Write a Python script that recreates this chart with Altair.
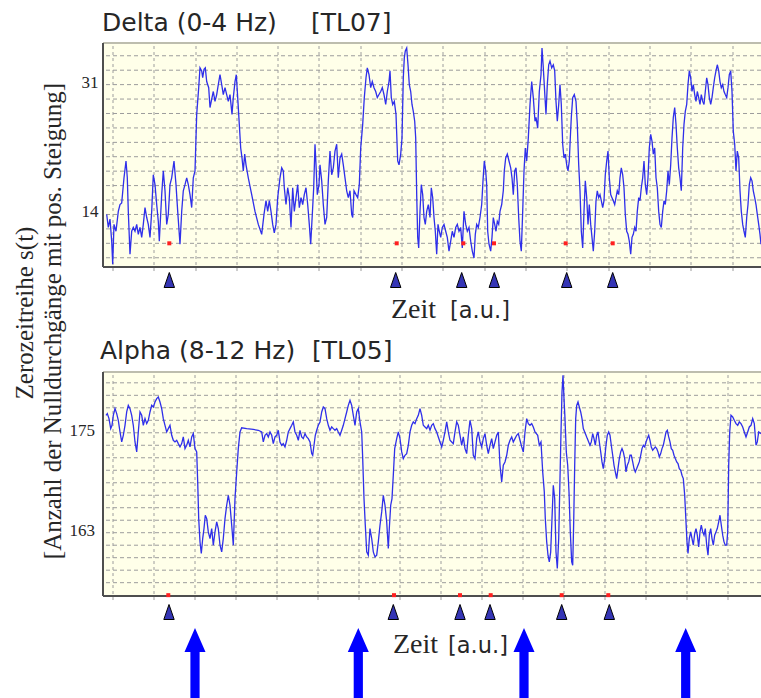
import altair as alt
import pandas as pd

# ---------------- data ----------------
# Delta band (0-4 Hz), time in a.u. vs zero-crossing count
delta_points = [
(3.7,14.0),(5.3,12.3),(7.0,13.4),(8.7,10.5),(9.7,7.5),(11.0,12.7),(13.0,11.8),(15.3,14.4),(17.0,15.3),(18.7,15.5),
(21.0,18.8),(23.0,21.0),(24.3,18.8),(25.3,14.4),(27.0,8.8),(28.7,11.8),(30.3,12.3),(32.0,11.8),(33.7,12.7),(35.3,11.4),
(37.0,12.3),(38.7,11.0),(40.3,12.7),(42.0,14.9),(43.7,13.6),(45.3,12.7),(47.0,11.0),(48.7,14.4),(50.3,19.2),(52.0,17.9),
(53.7,15.3),(55.3,13.1),(56.3,10.5),(58.7,16.6),(60.3,19.7),(62.0,17.1),(63.7,12.7),(65.3,14.0),(67.0,17.9),(68.7,18.8),
(71.0,21.0),(73.0,17.9),(74.7,14.4),(77.0,10.1),(78.7,14.4),(80.3,17.1),(82.0,17.9),(83.7,18.8),(85.3,17.9),(87.0,16.6),
(88.7,14.9),(90.3,18.8),(92.0,19.7),(93.7,27.1),(95.7,30.6),(97.0,33.2),(98.7,32.8),(99.7,31.9),(101.0,33.0),(102.3,33.2),
(103.7,31.4),(105.7,30.6),(107.0,28.0),(109.0,29.3),(110.3,30.1),(112.0,28.8),(113.7,29.7),(115.3,31.0),(117.0,32.3),(118.7,31.0),
(120.3,29.7),(122.0,30.6),(123.7,29.7),(125.3,28.8),(127.0,29.7),(129.0,27.1),(130.3,29.3),(132.0,31.4),(133.3,32.3),(134.7,29.3),
(136.3,25.8),(137.7,22.7),(139.0,21.4),(140.3,19.7),(141.7,21.9),(143.0,20.5),(145.3,18.8),(148.7,16.6),(152.0,14.4),(155.3,12.7),
(158.7,11.4),(161.0,14.0),(163.0,15.8),(164.7,14.4),(166.3,15.8),(168.0,14.4),(169.7,12.7),(171.3,11.6),(173.0,12.7),(174.7,16.2),
(177.0,18.8),(178.7,20.1),(180.3,19.7),(181.3,17.5),(183.0,15.3),(184.7,17.5),(186.3,16.2),(188.0,12.3),(189.7,17.5),(191.3,14.4),
(193.0,16.2),(194.7,17.9),(196.3,14.9),(198.0,16.2),(199.7,15.3),(201.3,16.6),(203.0,17.5),(204.7,15.3),(206.3,12.7),(207.7,10.1),
(209.3,14.0),(210.7,17.5),(212.0,23.2),(213.0,20.5),(214.3,16.6),(216.0,17.9),(217.0,20.5),(218.7,18.4),(220.3,15.3),(222.0,12.7),
(223.7,13.6),(225.3,18.4),(227.0,22.3),(228.7,19.2),(230.3,20.1),(232.0,22.3),(233.7,23.2),(235.3,18.8),(237.0,21.4),(238.7,21.9),
(240.3,20.5),(242.0,18.8),(243.7,17.1),(245.3,16.2),(247.0,17.1),(248.7,14.0),(249.7,13.6),(251.0,17.1),(253.0,16.6),(254.7,16.2),
(256.3,17.9),(257.7,22.7),(259.7,25.8),(261.3,29.3),(263.0,31.9),(264.3,33.2),(266.0,32.3),(267.7,30.6),(269.3,31.4),(271.0,30.6),
(272.7,30.1),(274.3,29.3),(276.0,29.7),(277.7,30.1),(279.3,30.6),(281.0,29.7),(282.7,28.4),(284.3,30.1),(286.0,31.4),(287.0,32.8),
(288.3,29.3),(289.7,28.4),(291.3,28.8),(293.0,27.1),(294.7,21.0),(296.0,20.5),(297.7,21.9),(299.0,24.0),(300.3,31.9),(301.3,34.5),
(302.3,35.4),(303.7,35.8),(305.0,33.6),(306.3,31.0),(307.7,30.1),(309.0,28.4),(310.3,27.5),(311.7,26.2),(312.7,24.0),(313.7,16.6),
(314.7,11.0),(315.7,9.6),(317.0,14.4),(318.3,17.9),(319.7,16.6),(321.0,13.6),(322.3,12.7),(323.7,14.4),(325.3,15.3),(327.0,13.6),
(328.3,17.5),(329.7,16.2),(331.0,13.6),(332.3,11.8),(333.7,8.8),(335.0,12.7),(336.3,11.8),(337.7,11.0),(339.3,12.3),(341.0,12.7),
(342.7,11.8),(344.3,11.0),(346.0,9.2),(347.7,10.5),(349.3,11.8),(351.0,11.0),(352.7,12.3),(354.3,12.7),(356.0,11.8),(357.7,12.3),
(359.3,9.6),(361.0,14.4),(362.7,12.7),(364.3,11.8),(366.0,12.3),(367.7,10.5),(369.3,9.2),(371.0,8.3),(372.3,11.4),(373.7,12.7),
(375.3,12.3),(377.0,13.6),(378.7,15.3),(380.0,18.4),(381.3,21.0),(382.7,19.7),(383.7,17.9),(384.7,11.8),(386.0,10.1),(387.7,9.2),
(389.0,11.0),(390.3,13.6),(391.7,12.7),(393.0,11.8),(394.3,13.1),(395.7,12.7),(397.0,14.4),(398.7,15.3),(400.3,17.1),(401.3,19.7),
(402.7,21.4),(404.3,21.9),(406.0,21.0),(407.7,20.1),(409.0,18.8),(410.3,16.6),(411.7,19.7),(413.0,20.1),(414.3,17.9),(415.7,13.6),
(417.0,10.5),(418.3,9.2),(419.7,14.4),(421.0,19.7),(422.3,22.7),(423.7,21.0),(425.3,24.0),(427.0,28.4),(428.7,31.4),(430.3,29.3),
(432.0,26.2),(433.0,26.7),(434.7,25.3),(436.3,30.1),(438.0,32.3),(439.0,35.8),(440.3,33.2),(442.0,29.3),(443.0,27.1),(444.3,31.0),
(445.7,33.6),(447.0,34.1),(448.7,33.2),(450.3,33.6),(451.7,32.8),(453.0,28.8),(454.3,26.2),(455.7,28.4),(457.0,31.0),(458.3,28.4),
(459.7,23.2),(461.0,21.4),(462.3,21.9),(463.7,20.5),(465.0,19.7),(466.3,21.0),(467.3,24.0),(468.3,26.7),(469.7,29.3),(471.3,29.7),
(473.0,28.8),(474.3,25.8),(475.7,20.5),(477.0,17.1),(478.3,11.8),(479.7,9.6),(481.0,14.4),(482.3,18.4),(483.7,16.2),(485.0,12.7),
(486.3,15.3),(487.7,12.7),(489.0,11.0),(490.3,9.2),(491.7,11.8),(493.0,15.8),(494.3,17.1),(495.7,16.2),(497.0,16.6),(498.3,15.8),
(499.7,14.9),(501.0,15.8),(502.3,19.2),(503.7,21.0),(505.0,22.3),(506.3,18.8),(507.7,16.6),(509.0,16.2),(510.3,15.8),(511.7,15.3),
(513.0,16.2),(514.3,17.1),(515.7,16.6),(517.0,18.8),(518.3,20.1),(519.7,19.2),(521.0,17.5),(522.3,14.0),(523.7,11.8),(525.0,11.4),
(526.3,10.5),(527.7,8.8),(529.0,11.0),(530.3,11.4),(531.7,12.3),(533.0,11.8),(534.3,14.4),(535.7,16.2),(537.0,15.8),(538.3,17.5),
(539.7,18.8),(541.0,21.0),(542.3,17.9),(543.7,16.6),(545.0,18.8),(546.3,22.7),(547.7,24.5),(549.0,23.6),(550.3,21.9),(551.7,22.7),
(553.0,18.8),(554.3,17.5),(555.7,14.4),(557.0,12.7),(558.3,12.3),(559.7,14.4),(561.0,15.8),(562.3,15.3),(563.7,17.1),(565.0,19.7),
(566.3,17.9),(567.7,20.5),(569.0,24.0),(570.3,26.7),(571.7,28.0),(573.0,25.8),(574.3,22.7),(575.7,20.1),(577.0,18.8),(578.3,17.1),
(579.7,22.7),(581.0,25.8),(582.3,27.5),(583.7,28.4),(585.0,31.0),(586.3,32.8),(587.7,31.9),(589.0,30.1),(590.3,31.0),(591.7,29.7),
(593.0,28.8),(594.3,30.1),(595.7,29.3),(597.0,28.4),(598.3,29.7),(599.7,28.8),(601.0,28.4),(602.3,30.1),(603.7,31.9),(605.0,31.0),
(606.3,29.3),(607.7,28.4),(609.0,29.3),(610.3,30.6),(611.7,31.9),(613.0,32.8),(614.3,33.6),(615.7,32.8),(617.0,31.4),(618.3,30.6),
(619.7,31.0),(621.0,30.1),(622.3,29.7),(623.7,29.3),(625.0,30.6),(626.3,32.3),(627.7,32.8),(629.0,30.1),(630.3,24.9),(631.7,23.2),
(633.0,19.7),(634.3,22.3),(635.7,21.4),(637.0,17.1),(638.3,14.4),(639.7,12.7),(641.0,11.8),(642.3,11.0),(643.7,13.6),(645.0,15.3),
(646.3,17.9),(647.7,18.8),(649.0,18.4),(650.3,17.1),(651.7,16.2),(653.0,15.3),(654.3,14.0),(655.7,12.7),(657.0,11.4),(658.0,10.1),
]

# Alpha band (8-12 Hz)
alpha_points = [
(3.0,177.1),(4.3,177.3),(6.0,176.7),(7.7,175.5),(9.0,175.9),(10.3,177.1),(12.0,177.9),(13.7,177.3),(15.3,176.5),(17.0,175.1),
(18.7,173.9),(20.3,174.7),(22.0,175.9),(23.7,177.5),(25.3,178.3),(27.0,177.9),(28.7,177.1),(30.3,175.9),(32.0,173.9),(33.7,172.7),
(35.3,175.1),(37.0,177.5),(38.7,177.1),(40.3,175.9),(42.0,176.7),(43.7,176.1),(45.3,176.5),(47.0,177.5),(48.7,178.3),(50.3,178.1),
(52.0,178.7),(53.7,179.1),(55.3,179.3),(57.0,178.7),(58.7,177.9),(60.3,176.7),(62.0,175.9),(63.7,175.1),(65.3,175.5),(67.0,175.9),
(68.7,174.7),(70.3,174.1),(72.0,173.9),(73.7,174.1),(75.3,173.7),(77.0,173.3),(78.7,173.7),(80.3,174.5),(82.0,173.1),(83.7,173.5),
(85.3,174.1),(87.0,173.3),(88.7,174.5),(90.3,174.9),(92.0,173.1),(93.7,172.7),(94.7,169.1),(95.7,164.7),(97.0,161.9),(98.3,160.5),
(99.7,162.3),(101.0,163.5),(102.3,165.1),(103.7,164.7),(105.3,163.1),(107.0,162.3),(108.7,163.5),(110.3,161.5),(112.0,163.1),(113.7,164.3),
(115.3,163.5),(117.0,161.5),(118.7,160.7),(120.3,162.3),(122.0,164.7),(123.7,166.3),(125.3,167.5),(127.0,166.3),(128.7,163.9),(130.3,161.5),
(132.0,167.1),(133.7,170.3),(135.3,173.1),(137.0,175.1),(138.7,175.6),(143.7,175.5),(150.3,175.4),(155.3,175.3),(158.7,175.1),(160.3,173.9),
(162.0,174.7),(163.7,174.9),(165.3,174.5),(167.0,175.1),(168.7,174.7),(170.3,173.7),(172.0,174.5),(173.7,174.7),(175.3,175.3),(177.0,173.9),
(178.7,173.5),(180.3,173.7),(182.0,173.3),(183.7,174.1),(185.3,175.1),(187.0,175.5),(188.7,175.9),(190.3,176.3),(192.0,175.1),(193.7,174.7),
(195.3,174.1),(197.0,175.3),(198.7,174.5),(200.3,174.3),(202.0,174.9),(203.7,174.5),(205.3,174.3),(207.0,173.9),(208.7,172.5),(209.7,172.3),
(211.0,173.5),(212.3,174.7),(213.7,175.3),(215.3,175.9),(217.0,176.3),(218.7,177.5),(220.3,178.1),(222.0,177.9),(223.7,176.7),(225.3,175.9),
(227.0,175.3),(228.7,175.7),(230.3,175.5),(232.0,175.3),(233.7,175.5),(235.3,175.1),(237.0,174.7),(238.7,175.3),(240.3,175.9),(242.0,176.7),
(243.7,177.5),(245.3,178.3),(247.0,178.9),(248.7,178.3),(250.3,177.1),(252.0,175.9),(253.7,177.5),(255.3,177.9),(257.0,176.3),(258.7,175.1),
(259.7,171.9),(261.0,167.1),(262.3,163.9),(263.7,160.7),(265.3,160.3),(267.0,163.5),(268.7,162.3),(270.3,160.7),(272.0,160.1),(273.7,160.3),
(275.3,161.9),(277.0,163.9),(278.7,165.5),(280.3,167.5),(282.0,166.3),(283.7,164.3),(285.3,161.1),(286.3,163.5),(287.7,166.3),(289.0,167.1),
(290.3,169.9),(291.7,173.1),(293.7,174.3),(295.3,175.1),(297.0,174.3),(298.7,172.7),(300.3,171.9),(302.0,172.3),(303.7,172.5),(305.3,173.5),
(307.0,175.1),(308.7,175.9),(310.3,176.3),(312.0,176.1),(313.7,176.7),(315.3,177.1),(317.0,177.9),(318.7,177.1),(320.3,175.9),(322.0,175.7),
(323.7,175.5),(325.3,175.9),(327.0,175.3),(328.7,175.9),(330.3,176.1),(332.0,175.5),(333.7,175.1),(335.3,174.5),(337.0,173.9),(338.7,173.3),
(340.3,174.1),(342.0,175.1),(343.7,176.3),(345.3,175.1),(347.0,174.1),(348.7,173.9),(350.3,173.7),(352.0,175.1),(353.7,176.3),(355.3,175.9),
(357.0,174.7),(358.7,173.5),(360.3,174.5),(362.0,173.1),(363.7,172.5),(365.3,174.7),(367.0,176.5),(368.7,175.5),(370.3,172.3),(372.0,171.9),
(373.7,174.3),(375.3,175.1),(377.0,173.9),(378.7,173.3),(380.3,174.3),(382.0,174.9),(383.7,173.5),(385.3,172.5),(387.0,173.5),(388.7,174.3),
(390.3,173.1),(392.0,173.9),(393.7,174.7),(395.3,175.1),(397.0,171.1),(398.7,169.1),(400.3,171.1),(402.0,171.5),(403.7,172.3),(405.3,173.5),
(407.0,174.1),(408.7,174.5),(410.3,173.9),(412.0,174.3),(413.7,174.7),(415.3,174.9),(417.0,174.1),(418.7,173.3),(420.3,172.7),(422.0,175.1),
(423.7,176.7),(425.3,176.1),(427.0,175.9),(428.7,176.1),(430.3,175.7),(432.0,175.1),(434.7,174.7),(436.3,173.5),(438.0,173.9),(439.7,170.3),
(441.3,167.9),(442.3,164.7),(443.7,161.9),(445.0,160.3),(446.3,159.5),(447.7,160.7),(449.0,164.7),(450.3,168.7),(451.7,167.1),(453.0,160.7),
(454.3,158.7),(455.7,162.3),(457.0,169.5),(458.0,175.1),(459.0,179.9),(460.0,181.9),(461.0,179.1),(462.0,176.7),(463.3,172.7),(464.7,171.1),
(466.0,167.9),(467.3,163.1),(468.7,159.5),(469.7,159.1),(470.7,164.3),(471.7,171.1),(472.7,176.7),(473.7,178.3),(475.0,178.7),(476.3,178.1),
(477.7,177.5),(479.0,176.7),(480.3,175.5),(481.7,175.1),(483.0,174.7),(484.3,174.3),(485.7,173.9),(487.0,173.5),(488.3,173.9),(489.7,174.9),
(491.0,174.3),(492.3,173.5),(493.7,174.7),(495.0,175.1),(496.3,173.9),(497.7,172.7),(499.0,171.5),(500.3,170.7),(501.7,171.9),(503.0,173.5),
(504.3,174.7),(505.7,175.1),(507.0,174.7),(508.3,173.5),(509.7,172.3),(511.0,171.1),(512.3,170.3),(513.7,169.5),(515.0,170.7),(516.3,171.9),
(517.7,172.7),(519.0,173.1),(520.3,172.7),(521.7,171.9),(523.0,170.3),(524.3,171.1),(525.7,171.5),(527.0,172.3),(528.3,172.3),(529.7,171.5),
(531.0,170.7),(532.3,170.3),(533.7,170.7),(535.0,171.1),(536.3,171.5),(537.7,172.3),(539.0,173.1),(540.3,173.5),(541.7,173.3),(543.0,173.9),
(544.3,174.3),(545.7,174.7),(547.0,174.1),(548.3,173.3),(549.7,172.9),(551.0,173.1),(552.3,173.3),(553.7,173.1),(555.0,172.7),(556.3,172.1),
(557.7,172.5),(559.0,173.1),(560.3,173.5),(561.7,174.3),(563.0,175.1),(564.3,175.3),(565.7,174.5),(567.0,173.9),(568.3,173.1),(569.7,172.9),
(571.0,172.3),(572.3,171.9),(573.7,171.5),(575.0,171.3),(576.3,170.7),(577.7,170.5),(579.0,169.9),(580.3,169.5),(581.7,167.5),(583.0,164.3),
(584.0,161.9),(585.0,160.5),(586.3,162.3),(587.7,163.1),(589.0,162.3),(590.3,161.5),(591.7,162.9),(593.0,163.5),(594.3,162.7),(595.7,161.3),
(597.0,163.1),(598.3,163.9),(599.7,163.1),(601.0,162.7),(602.3,163.5),(603.7,161.5),(605.0,160.3),(606.3,162.7),(607.7,163.5),(609.0,162.3),
(610.3,161.5),(611.7,162.7),(613.0,163.1),(614.3,163.5),(615.7,164.3),(617.0,165.1),(618.3,163.9),(619.7,162.7),(621.0,161.9),(622.3,161.5),
(623.7,161.5),(624.7,163.1),(625.7,171.1),(626.7,175.1),(628.0,177.1),(629.7,176.9),(631.3,176.5),(633.0,176.1),(634.7,175.9),(636.3,176.3),
(638.0,176.1),(639.7,175.7),(641.3,175.1),(643.0,174.5),(644.7,175.1),(646.3,175.7),(648.0,175.9),(649.7,176.7),(651.3,176.1),(653.0,173.5),
(654.3,173.9),(655.7,175.1),(658.0,174.9),
]

# event markers (time positions)
delta_triangles_t = [66.3, 292.7, 358.7, 391.3, 463.7, 509.7]
delta_dots_t = [66.3, 293.7, 360.3, 391.0, 462.7, 509.7]
delta_dot_level = 10.22
alpha_triangles_t = [66.0, 290.3, 357.0, 387.0, 458.7, 506.3]
alpha_dots_t = [65.3, 291.0, 357.0, 387.7, 458.7, 505.3]
alpha_dot_level = 155.5
arrow_t = [92.0, 255.3, 421.0, 582.7]

# axes / grid
delta_ticks = [31, 14]
alpha_ticks = [175, 163]
delta_hgrid = [8.33, 10.22, 12.11, 14.0, 15.89, 17.78, 19.67, 21.56, 23.44, 25.33, 27.22, 29.11, 31.0, 32.89, 34.78]
alpha_hgrid = [157.0, 158.5, 160.0, 161.5, 163.0, 164.5, 166.0, 167.5, 169.0, 170.5, 172.0, 173.5, 175.0, 176.5, 178.0, 179.5, 181.0]
delta_vgrid = [10, 51, 93, 134, 175, 216, 258, 299, 340, 382, 423, 464, 506, 547, 588, 630]
alpha_vgrid = [10, 51, 92, 133, 174, 215, 256, 297, 338, 379, 420, 461, 502, 543, 584, 625]

T_DOMAIN = [0, 658]
DELTA_DOMAIN = [7.12, 36.45]
ALPHA_DOMAIN = [155.4, 182.3]

titles = ["Delta (0-4 Hz)", "Alpha (8-12 Hz)"]
tags = ["[TL07]", "[TL05]"]
ylabel_lines = ["Zerozeitreihe s(t)", "[Anzahl der Nulldurchgänge mit pos. Steigung]"]

# ---------------- styling ----------------
BG = "#FFFFE9"
GRID = "#9C9C9C"
AXIS = "#4E4E4E"
BORDER = "#BDBDAE"
LINE = "#2F2FEA"
TXT = "#262626"
SERIF = "Liberation Serif"
SANS = "DejaVu Sans"
TRI = "M0,-7.5L5.2,7.5L-5.2,7.5Z"
ARROW = "M0,0L10.5,24L4.6,24L4.6,70L-4.6,70L-4.6,24L-10.5,24Z"

xs = alt.Scale(domain=T_DOMAIN, nice=False, zero=False)


def panel(points, dom, rng, hgrid, vgrid, ticks, tick_x, tick_dy,
          dots_t, dot_level, tri_t, tri_y):
    ys = alt.Scale(domain=dom, range=rng, nice=False, zero=False)
    X = lambda f: alt.X(f, scale=xs, axis=None)
    Y = lambda f: alt.Y(f, scale=ys, axis=None)
    layers = []
    bg = pd.DataFrame({"x0": [T_DOMAIN[0]], "x1": [T_DOMAIN[1]], "y0": [dom[0]], "y1": [dom[1]]})
    layers.append(alt.Chart(bg).mark_rect(color=BG).encode(x=X("x0:Q"), x2="x1:Q", y=Y("y0:Q"), y2="y1:Q"))
    layers.append(alt.Chart(pd.DataFrame({"g": hgrid})).mark_rule(
        color=GRID, strokeDash=[4, 3], strokeWidth=1).encode(y=Y("g:Q")))
    span = dom[1] - dom[0]
    vg = pd.DataFrame({"t": vgrid, "y0": [dom[0] - span * 0.018] * len(vgrid), "y1": [dom[1]] * len(vgrid)})
    layers.append(alt.Chart(vg).mark_rule(color=GRID, strokeDash=[3, 3], strokeWidth=1).encode(
        x=X("t:Q"), y=Y("y0:Q"), y2="y1:Q"))
    layers.append(alt.Chart(pd.DataFrame({"g": [dom[1]]})).mark_rule(
        color=BORDER, strokeWidth=2).encode(y=Y("g:Q")))
    layers.append(alt.Chart(pd.DataFrame({"g": [dom[0]]})).mark_rule(
        color=AXIS, strokeWidth=2).encode(y=Y("g:Q")))
    layers.append(alt.Chart(bg).mark_rule(color=AXIS, strokeWidth=2).encode(
        x=X("x0:Q"), y=Y("y0:Q"), y2="y1:Q"))
    df = pd.DataFrame(points, columns=["t", "v"])
    layers.append(alt.Chart(df).mark_line(color=LINE, strokeWidth=1.3).encode(
        x=X("t:Q"), y=Y("v:Q"), order="t:Q"))
    dd = pd.DataFrame({"t": dots_t, "v": [dot_level] * len(dots_t)})
    layers.append(alt.Chart(dd).mark_square(color="#FF2020", size=16, opacity=1).encode(
        x=X("t:Q"), y=Y("v:Q")))
    layers.append(alt.Chart(pd.DataFrame({"t": tri_t})).mark_point(
        shape=TRI, size=4, filled=True, fill="#3535B5", stroke="#000000", strokeWidth=1, opacity=1
    ).encode(x=X("t:Q"), y=alt.value(tri_y)))
    tk = pd.DataFrame({"v": ticks, "s": [str(t) for t in ticks]})
    layers.append(alt.Chart(tk).mark_text(font=SERIF, fontSize=17, align="right", baseline="middle",
                                          dy=tick_dy, color=TXT).encode(
        x=alt.value(tick_x), y=Y("v:Q"), text="s:N"))
    return layers


def label(text, x, y, font, size, **kw):
    return alt.Chart(pd.DataFrame({"s": [text]})).mark_text(
        font=font, fontSize=size, align="left", baseline="alphabetic", color=TXT, **kw
    ).encode(x=alt.value(x), y=alt.value(y), text="s:N")


layers = []
layers += panel(delta_points, DELTA_DOMAIN, [224, 0], delta_hgrid, delta_vgrid, delta_ticks, -4.5, -2,
                delta_dots_t, delta_dot_level, delta_triangles_t, 237)
layers += panel(alpha_points, ALPHA_DOMAIN, [553, 329], alpha_hgrid, alpha_vgrid, alpha_ticks, -8, -1.5,
                alpha_dots_t, alpha_dot_level, alpha_triangles_t, 569)

# big arrows under the alpha panel
layers.append(alt.Chart(pd.DataFrame({"t": arrow_t})).mark_point(
    shape=ARROW, size=4, filled=True, fill="#0000FF", strokeWidth=0, opacity=1
).encode(x=alt.X("t:Q", scale=xs, axis=None), y=alt.value(585)))

# texts
layers.append(label(titles[0], -1, -12.5, SANS, 25))
layers.append(label(tags[0], 208, -12.5, SANS, 25))
layers.append(label(titles[1], -3, 316, SANS, 25))
layers.append(label(tags[1], 209, 316, SANS, 25))
layers.append(label("Zeit", 288, 275, SERIF, 28))
layers.append(label("[a.u.]", 347, 275, SANS, 22.5))
layers.append(label("Zeit", 290, 609.5, SERIF, 28))
layers.append(label("[a.u.]", 345, 609.5, SANS, 22.5))
layers.append(alt.Chart(pd.DataFrame({"s": [ylabel_lines[0]]})).mark_text(
    font=SERIF, fontSize=25, angle=270, align="center", baseline="alphabetic", color=TXT
).encode(x=alt.value(-70), y=alt.value(270), text="s:N"))
layers.append(alt.Chart(pd.DataFrame({"s": [ylabel_lines[1]]})).mark_text(
    font=SERIF, fontSize=25, angle=270, align="center", baseline="alphabetic", color=TXT
).encode(x=alt.value(-42), y=alt.value(278), text="s:N"))

chart = alt.layer(*layers).resolve_scale(y="independent").properties(
    width=658, height=655,
    autosize=alt.AutoSizeParams(type="none"),
    padding={"left": 103, "top": 43, "right": 0, "bottom": 0},
    background="white",
).configure_view(stroke=None)

chart.save("out.html", embed_options={"renderer": "svg", "actions": False})
